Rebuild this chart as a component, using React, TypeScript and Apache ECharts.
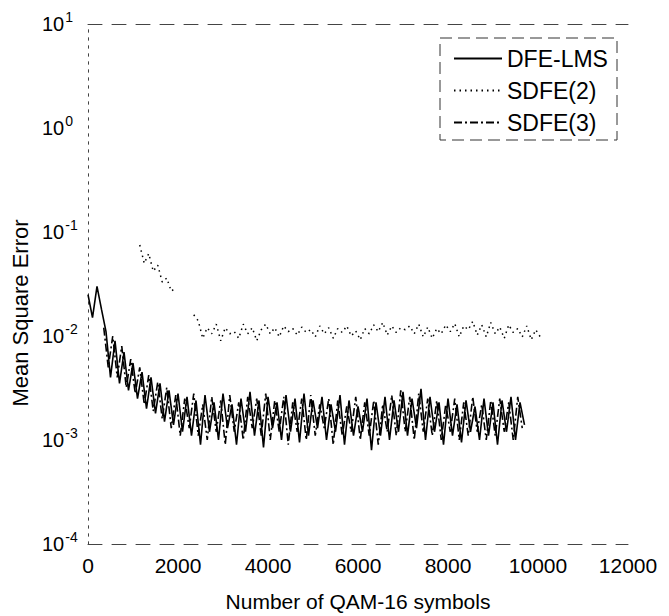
import React, { useEffect, useRef } from "react";
import * as echarts from "echarts";

const FONT = '"Liberation Sans", Arial, Helvetica, sans-serif';

const seriesNames = ["DFE-LMS", "SDFE(2)", "SDFE(3)"];
const xTitle = "Number of QAM-16 symbols";
const yTitle = "Mean Square Error";

// DFE-LMS: samples every 100 symbols from 0
const dfeStart = 0;
const dfeStep = 100;
const dfeLms = [
  0.025, 0.015, 0.03, 0.018, 0.011, 0.004, 0.009, 0.0035, 0.007, 0.003,
  0.0055, 0.0025, 0.0045, 0.002, 0.004, 0.0018, 0.0035, 0.0015, 0.003, 0.0014,
  0.0028, 0.0012, 0.0026, 0.0011, 0.0024, 0.0009, 0.0027, 0.0012, 0.0023, 0.001,
  0.0028, 0.0013, 0.0022, 0.0009, 0.0025, 0.0012, 0.0029, 0.0011, 0.0024, 0.00085,
  0.0026, 0.0013, 0.0023, 0.001, 0.0027, 0.0012, 0.0025, 0.00095, 0.0028, 0.0011,
  0.0024, 0.0013, 0.0026, 0.001, 0.0022, 0.0012, 0.0027, 0.0009, 0.0024, 0.0011,
  0.0021, 0.0012, 0.0025, 0.0008, 0.0023, 0.0011, 0.0026, 0.001, 0.0024, 0.0012,
  0.0029, 0.0011, 0.0025, 0.0013, 0.0031, 0.001, 0.0026, 0.0012, 0.0023, 0.0009,
  0.0025, 0.0011, 0.0022, 0.00095, 0.0024, 0.0012, 0.0021, 0.001, 0.0025, 0.0011,
  0.0023, 0.0009, 0.0024, 0.0012, 0.0026, 0.001, 0.0023, 0.0014,
];

// SDFE(2): samples every 100 symbols from 1150 (null = gap)
const sdfe2Start = 1150;
const sdfe2Step = 100;
const sdfe2 = [
  0.075, 0.05, 0.062, 0.042, 0.048, 0.033, 0.036, 0.027, 0.029,
  null, null, null,
  0.016, 0.014, 0.0095, 0.012, 0.0105, 0.013, 0.009, 0.012, 0.0105, 0.011,
  0.0095, 0.013, 0.0105, 0.012, 0.009, 0.0115, 0.013, 0.0105, 0.012, 0.0098,
  0.0125, 0.011, 0.0118, 0.0102, 0.0122, 0.0108, 0.0115, 0.0098, 0.0125, 0.0105,
  0.012, 0.0095, 0.0118, 0.0108, 0.0125, 0.01, 0.0112, 0.0092, 0.0118, 0.0105,
  0.0128, 0.011, 0.0135, 0.0102, 0.0125, 0.0108, 0.012, 0.0115, 0.0125, 0.0105,
  0.013, 0.0098, 0.0122, 0.0095, 0.0118, 0.0105, 0.0128, 0.011, 0.0132, 0.0098,
  0.0125, 0.0115, 0.0138, 0.0102, 0.0128, 0.0098, 0.0135, 0.0105, 0.0122, 0.0095,
  0.0128, 0.0108, 0.0118, 0.0098, 0.0125, 0.0092, 0.0115, 0.0098,
];

// SDFE(3): samples every 100 symbols from 350
const sdfe3Start = 350;
const sdfe3Step = 100;
const sdfe3 = [
  0.012, 0.005, 0.01, 0.004, 0.008, 0.0032, 0.006, 0.0028, 0.005, 0.0022,
  0.0042, 0.0019, 0.0036, 0.0016, 0.0032, 0.0013, 0.0027, 0.0011,
  0.0025, 0.0013, 0.0028, 0.0011, 0.0022, 0.001, 0.0026, 0.0012, 0.0024, 0.0009,
  0.0027, 0.0012, 0.0023, 0.001, 0.0026, 0.0013, 0.0025, 0.0011, 0.0028, 0.001,
  0.0024, 0.0012, 0.0026, 0.0009, 0.0023, 0.0012, 0.0025, 0.001, 0.0027, 0.0011,
  0.0022, 0.0013, 0.0025, 0.0009, 0.0024, 0.0011, 0.0021, 0.0012, 0.0026, 0.001,
  0.0023, 0.0011, 0.0024, 0.0009, 0.0022, 0.0012, 0.0027, 0.0011, 0.003, 0.0012,
  0.0026, 0.001, 0.0028, 0.0012, 0.0025, 0.0011, 0.0024, 0.001, 0.0022, 0.0012,
  0.0025, 0.001, 0.0023, 0.0011, 0.0026, 0.0012, 0.0022, 0.001, 0.0024, 0.0011,
  0.0025, 0.0012, 0.0023, 0.001, 0.0026, 0.0013,
];

const xMin = 0;
const xMax = 12000;
const xInterval = 2000;
const yMin = 1e-4;
const yMax = 10;

function toPairs(start: number, step: number, vals: (number | null)[]) {
  return vals.map((v, i) => [start + i * step, v === null ? "-" : v]);
}

export default function App() {
  const ref = useRef<HTMLDivElement>(null);
  useEffect(() => {
    document.body.style.margin = "0";
    if (!ref.current) return;
    const chart = echarts.init(ref.current, null, { renderer: "svg" });
    const frameDash = { color: "#444", width: 1, type: [14, 10] as any };
    const frameDot = { color: "#444", width: 1, type: [2, 6] as any };
    chart.setOption({
      animation: false,
      backgroundColor: "#fff",
      textStyle: { fontFamily: FONT, color: "#000" },
      grid: {
        left: 88,
        right: 41,
        top: 24,
        bottom: 72,
        containLabel: false,
        outerBoundsMode: "none",
      },
      legend: {
        left: 440,
        top: 38,
        orient: "vertical",
        padding: [9, 14, 7, 13],
        itemWidth: 48,
        itemHeight: 14,
        itemGap: 9,
        itemStyle: { opacity: 0 },
        textStyle: { fontFamily: FONT, fontSize: 23, color: "#000" },
        data: seriesNames,
      },
      graphic: [
        {
          type: "rect",
          shape: { x: 440, y: 38, width: 177, height: 102 },
          style: { fill: "none", stroke: "#333", lineWidth: 1, lineDash: [12, 6] },
          silent: true,
        },
      ],
      xAxis: [
        {
          type: "value",
          min: xMin,
          max: xMax,
          interval: xInterval,
          position: "bottom",
          name: xTitle,
          nameLocation: "middle",
          nameGap: 47,
          nameMoveOverlap: false,
          nameTextStyle: { fontFamily: FONT, fontSize: 21, color: "#000" },
          axisLine: { show: true, lineStyle: frameDash },
          axisTick: { show: false },
          axisLabel: {
            fontFamily: FONT,
            fontSize: 21,
            color: "#000",
            margin: 11,
            formatter: (v: number) => String(v),
          },
          splitLine: { show: false },
        },
        {
          type: "value",
          min: xMin,
          max: xMax,
          interval: xInterval,
          position: "top",
          axisLine: { show: true, lineStyle: frameDash },
          axisTick: { show: false },
          axisLabel: { show: false },
          splitLine: { show: false },
        },
      ],
      yAxis: [
        {
          type: "log",
          logBase: 10,
          min: yMin,
          max: yMax,
          position: "left",
          name: yTitle,
          nameLocation: "middle",
          nameGap: 57,
          nameRotate: 90,
          nameMoveOverlap: false,
          nameTextStyle: { fontFamily: FONT, fontSize: 22, color: "#000", padding: [0, 58, 0, 0] },
          axisLine: { show: true, lineStyle: frameDot },
          axisTick: { show: false },
          splitLine: { show: false },
          axisLabel: {
            align: "left",
            margin: 46,
            formatter: (v: number) => `{b|10}{s|${Math.round(Math.log10(v))}}`,
            rich: {
              b: { fontFamily: FONT, fontSize: 20, color: "#000" },
              s: { fontFamily: FONT, fontSize: 14, color: "#000", padding: [0, 0, 15, 1] },
            },
          },
        },
        {
          type: "log",
          logBase: 10,
          min: yMin,
          max: yMax,
          position: "right",
          axisLine: { show: true, lineStyle: frameDot },
          axisTick: { show: false },
          axisLabel: { show: false },
          splitLine: { show: false },
        },
      ],
      series: [
        {
          name: seriesNames[0],
          type: "line",
          symbol: "none",
          data: toPairs(dfeStart, dfeStep, dfeLms),
          lineStyle: { color: "#000", width: 1.6 },
          itemStyle: { color: "#000" },
        },
        {
          name: seriesNames[1],
          type: "line",
          symbol: "none",
          data: toPairs(sdfe2Start, sdfe2Step, sdfe2),
          lineStyle: { color: "#000", width: 1.5, type: [1.5, 4] },
          itemStyle: { color: "#000" },
        },
        {
          name: seriesNames[2],
          type: "line",
          symbol: "none",
          data: toPairs(sdfe3Start, sdfe3Step, sdfe3),
          lineStyle: { color: "#000", width: 1.6, type: [8, 3, 2, 3] },
          itemStyle: { color: "#000" },
        },
      ],
    });
    return () => chart.dispose();
  }, []);
  return <div ref={ref} style={{ width: 669, height: 616 }} />;
}
